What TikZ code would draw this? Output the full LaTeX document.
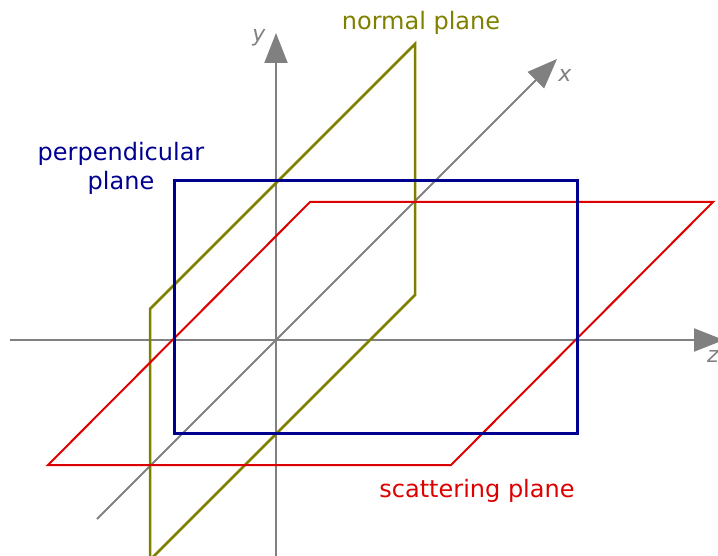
\documentclass[tikz,border=0pt]{standalone}
\usepackage{fontspec}
\setmainfont{DejaVu Sans}
\usetikzlibrary{arrows.meta}
\definecolor{axisgray}{HTML}{808080}
\definecolor{planeolive}{HTML}{808000}
\definecolor{planenavy}{HTML}{000090}
\definecolor{planered}{HTML}{DD0000}
\tikzset{
  axis/.style={draw=axisgray, line width=2pt, -{Triangle[length=30pt,width=23pt]}},
  axlabel/.style={text=axisgray, font=\fontsize{22}{24}\selectfont\itshape, inner sep=0pt},
  planelabel/.style={font=\fontsize{24}{29}\selectfont, inner sep=0pt, align=center}
}
\begin{document}
\begin{tikzpicture}[x=1pt,y=-1pt]
\useasboundingbox (0,0) rectangle (718,556);
\clip (0,0) rectangle (718,556);
% coordinates
\coordinate (zs) at (10,340);
\coordinate (ze) at (724,340);
\coordinate (ys) at (276,560);
\coordinate (ye) at (276,33);
\coordinate (xs) at (97,519);
\coordinate (xe) at (557,59);
% axes
\draw[axis] (zs) -- (ze);
\draw[axis] (ys) -- (ye);
\draw[axis] (xs) -- (xe);
% planes
\draw[planeolive, line width=2.5pt, line join=miter] (150,580) -- (150,309) -- (415,44) -- (415,295) -- (130,580);
\draw[planered, line width=2pt] (48,465) -- (451,465) -- (713,202) -- (310,202) -- cycle;
\draw[planenavy, line width=3pt] (174,181) rectangle (577,433);
% labels
\node[axlabel] (ylab) at (259,38) {y};
\node[axlabel] (xlab) at (565,75) {x};
\node[axlabel] (zlab) at (713,356) {z};
\node[planelabel, text=planeolive] (nlab) at (421,23) {normal plane};
\node[planelabel, text=planenavy] (plab) at (121,168) {perpendicular\\plane};
\node[planelabel, text=planered] (slab) at (477,491) {scattering plane};
\end{tikzpicture}
\end{document}
